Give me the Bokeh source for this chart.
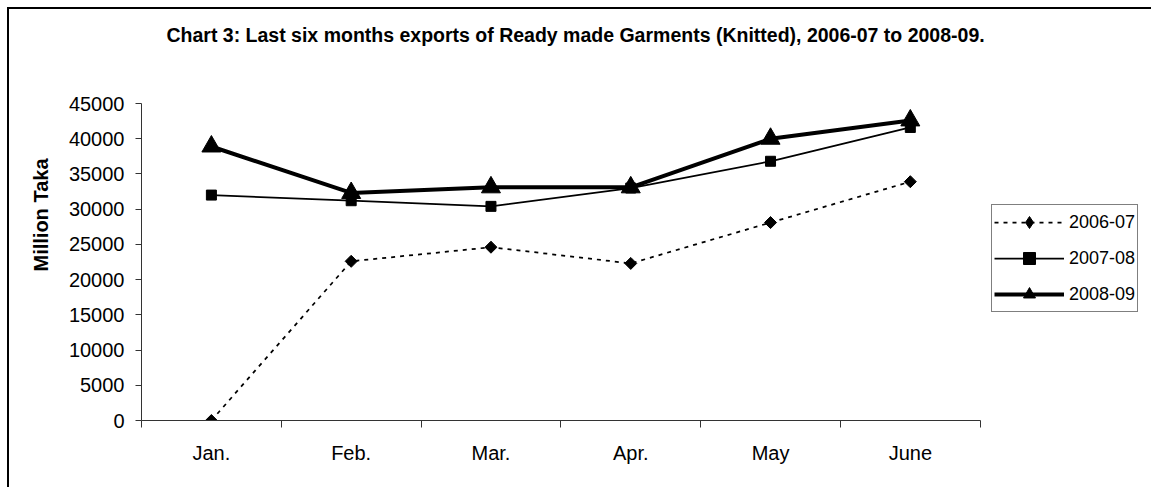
import math
from bokeh.plotting import figure
from bokeh.models import Range1d, FixedTicker, Legend, LegendItem, Label
from bokeh.embed import file_html
from bokeh.resources import INLINE

months = ["Jan.", "Feb.", "Mar.", "Apr.", "May", "June"]
series_names = ["2006-07", "2007-08", "2008-09"]
exp_2006_07 = [0, 22600, 24600, 22300, 28100, 33900]
exp_2007_08 = [32000, 31200, 30400, 33000, 36800, 41600]
exp_2008_09 = [38900, 32300, 33100, 33100, 40000, 42600]
y_ticks = [0, 5000, 10000, 15000, 20000, 25000, 30000, 35000, 40000, 45000]
title_text = "Chart 3: Last six months exports of Ready made Garments (Knitted), 2006-07 to 2008-09."
y_label = "Million Taka"

FONT = "Liberation Sans"
xs = [i + 0.5 for i in range(len(months))]
n = len(months)
nan = float("nan")

# The frame spans the whole canvas to the right and top so that the legend and the
# title (drawn inside it) are not clipped; the axes are bounded to the data area.
p = figure(width=1144, height=480, output_backend="svg", toolbar_location=None,
           x_range=Range1d(0, n * 1.2066), y_range=Range1d(0, y_ticks[-1] * 1.2966),
           min_border_left=132, min_border_right=0, min_border_top=0, min_border_bottom=69)
p.styles = {"margin-left": "7px", "margin-top": "7px",
            "border-left": "2px solid #000", "border-top": "2px solid #000"}
p.outline_line_color = None
p.xgrid.visible = False
p.ygrid.visible = False
p.background_fill_color = "white"
p.border_fill_color = "white"

# x axis
p.xaxis.bounds = (0, n)
p.xaxis.ticker = FixedTicker(ticks=xs, minor_ticks=list(range(n + 1)))
p.xaxis.major_label_overrides = {x: m for x, m in zip(xs, months)}
p.xaxis.major_tick_in = 0
p.xaxis.major_tick_out = 0
p.xaxis.minor_tick_in = 0
p.xaxis.minor_tick_out = 7
p.xaxis.axis_line_color = "#333333"
p.xaxis.minor_tick_line_color = "#333333"
p.xaxis.major_label_standoff = 14
p.xaxis.major_label_text_font = FONT
p.xaxis.major_label_text_font_size = "20px"
p.xaxis.major_label_text_color = "black"

# y axis
p.yaxis.bounds = (0, y_ticks[-1])
p.yaxis.ticker = FixedTicker(ticks=y_ticks, minor_ticks=[])
p.yaxis.major_tick_in = 0
p.yaxis.major_tick_out = 6
p.yaxis.axis_line_color = "#333333"
p.yaxis.major_tick_line_color = "#333333"
p.yaxis.major_label_standoff = 11
p.yaxis.major_label_text_font = FONT
p.yaxis.major_label_text_font_size = "20px"
p.yaxis.major_label_text_color = "black"
p.yaxis.axis_label = y_label
p.yaxis.axis_label_text_font = FONT
p.yaxis.axis_label_text_font_style = "bold"
p.yaxis.axis_label_text_font_size = "20px"
p.yaxis.axis_label_text_color = "black"
p.yaxis.axis_label_standoff = 14

# title
p.add_layout(Label(x=25, y=386, x_units="screen", y_units="screen", text=title_text,
                   text_align="left", text_baseline="alphabetic", text_font=FONT,
                   text_font_style="bold", text_font_size="19.5px", text_color="black"))

# series
l1 = p.line(xs, exp_2006_07, line_color="black", line_width=1.75, line_dash="4 5")
m1 = p.scatter(xs, exp_2006_07, marker="square", angle=math.pi / 4, size=8.5,
               fill_color="black", line_color="black")
l2 = p.line(xs, exp_2007_08, line_color="black", line_width=1.75)
m2 = p.scatter(xs, exp_2007_08, marker="square", size=10, fill_color="black", line_color="black")
l3 = p.line(xs, exp_2008_09, line_color="black", line_width=4)
m3 = p.scatter(xs, exp_2008_09, marker="triangle", size=19, fill_color="black", line_color="black")

# legend-only diamond (legend glyphs ignore the marker angle)
d1 = p.scatter([nan], [nan], marker="diamond", fill_color="black", line_color="black")

legend = Legend(items=[LegendItem(label=series_names[0], renderers=[l1, d1]),
                       LegendItem(label=series_names[1], renderers=[l2, m2]),
                       LegendItem(label=series_names[2], renderers=[l3, m3])],
                location=(850, 108), margin=0, padding=2, spacing=6,
                glyph_width=70, glyph_height=30, label_height=30, label_standoff=5,
                label_text_font=FONT, label_text_font_size="18px", label_text_color="black",
                border_line_color="black", border_line_width=1,
                background_fill_color="white", background_fill_alpha=1)
p.add_layout(legend)

open("out.html", "w").write(file_html(p, INLINE))
